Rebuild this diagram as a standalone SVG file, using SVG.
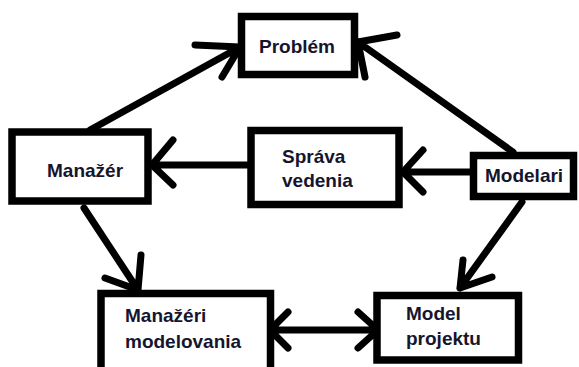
<svg xmlns="http://www.w3.org/2000/svg" width="579" height="367" viewBox="0 0 579 367">
<style>
.box{fill:#fff;stroke:#000;stroke-width:7.5}
.t{font-family:"Liberation Sans",Arial,sans-serif;font-weight:bold;font-size:19px;fill:#15152e}
.c{fill:none;stroke:#000;stroke-width:7;stroke-linecap:round;stroke-linejoin:round}
</style>
<rect width="579" height="367" fill="#fff"/>
<g id="connectors">
  <path class="c" d="M90,130 L240,47 M195,45 L240,47 L222,77"/>
  <path class="c" d="M513,152 L358,42 M397,35 L358,42 L365,77"/>
  <path class="c" d="M248,165 L152,165 M173,140 L152,165 L173,185"/>
  <path class="c" d="M470,172 L403,172 M423,150 L403,172 L423,192"/>
  <path class="c" d="M84,208 L138,290 M141,255 L138,290 L105,278"/>
  <path class="c" d="M522,202 L460,288 M463,260 L460,288 L492,277"/>
  <path class="c" d="M270,330 L378,330 M288,312 L270,330 L288,348 M358,312 L378,330 L358,348"/>
</g>
<g id="problem">
  <rect class="box" x="241.5" y="16.5" width="113" height="58"/>
  <text class="t" x="259" y="53">Problém</text>
</g>
<g id="manazer">
  <rect class="box" x="12" y="132" width="136" height="69"/>
  <text class="t" x="47" y="177">Manažér</text>
</g>
<g id="sprava">
  <rect class="box" x="251" y="130.5" width="148" height="74"/>
  <text class="t" x="282" y="163">Správa</text>
  <text class="t" x="282" y="187">vedenia</text>
</g>
<g id="modelari">
  <rect class="box" x="473.5" y="155.5" width="100" height="41"/>
  <text class="t" x="485" y="182">Modelari</text>
</g>
<g id="manazeri">
  <rect class="box" x="101" y="293.5" width="169.5" height="80"/>
  <text class="t" x="125" y="322">Manažéri</text>
  <text class="t" x="125" y="348">modelovania</text>
</g>
<g id="model">
  <rect class="box" x="377" y="295.5" width="141.5" height="64.5"/>
  <text class="t" x="406" y="320">Model</text>
  <text class="t" x="406" y="345">projektu</text>
</g>
</svg>
